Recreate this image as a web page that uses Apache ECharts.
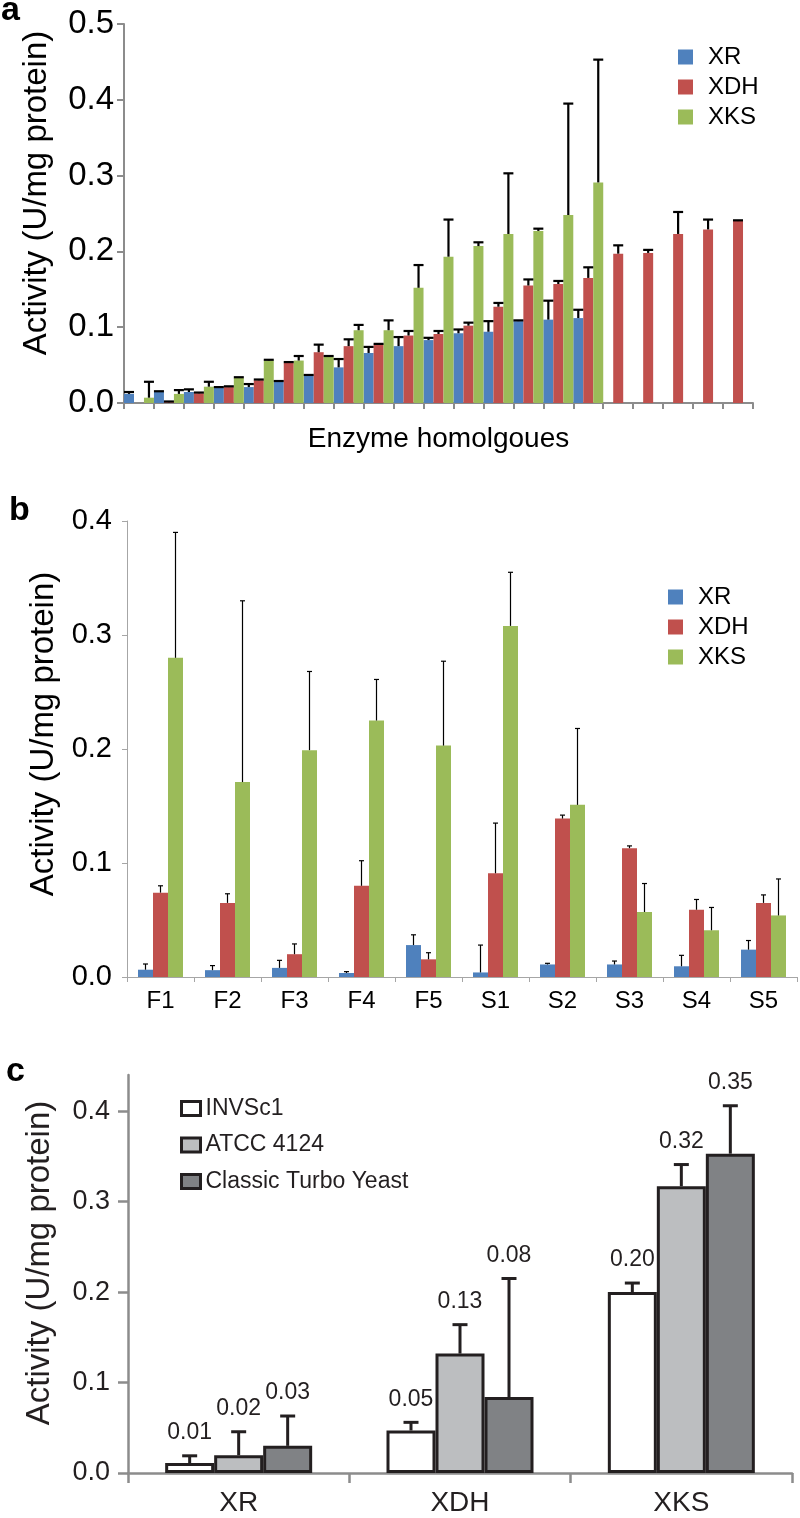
<!DOCTYPE html>
<html><head><meta charset="utf-8">
<script src="https://cdn.jsdelivr.net/npm/echarts@6/dist/echarts.min.js"></script>
<style>html,body{margin:0;padding:0;background:#fff}#chart{width:800px;height:1518px}</style>
</head><body><div id="chart"></div>
<script>
const FONT = "'Liberation Sans', Arial, Helvetica, sans-serif";

// ---------- Panel a ----------
const homologues = ['H1','H2','H3','H4','H5','H6','H7','H8','H9','H10','H11','H12','H13','H14','H15','H16','H17','H18','H19','H20','H21'];
const aXR      = [0.012, 0.0145, 0.0145, 0.020, 0.021, 0.028, 0.036, 0.047, 0.066, 0.075, 0.083, 0.092, 0.094, 0.108, 0.110, 0.112, null, null, null, null, null];
const aXRErr   = [0.0025, 0.001, 0.0035, 0.001, 0.004, 0.001, 0.001, 0.011, 0.008, 0.012, 0.003, 0.005, 0.014, 0.001, 0.025, 0.011, null, null, null, null, null];
const aXDH     = [null, 0.001, 0.0128, 0.021, 0.030, 0.053, 0.067, 0.075, 0.077, 0.089, 0.091, 0.102, 0.127, 0.155, 0.157, 0.165, 0.197, 0.198, 0.223, 0.229, 0.240];
const aXDHErr  = [null, 0.001, 0.001, 0.001, 0.001, 0.001, 0.010, 0.009, 0.001, 0.006, 0.004, 0.004, 0.005, 0.008, 0.004, 0.014, 0.011, 0.004, 0.029, 0.013, 0.001];
const aXKS     = [0.007, 0.012, 0.0215, 0.033, 0.056, 0.056, 0.061, 0.096, 0.096, 0.152, 0.193, 0.207, 0.223, 0.227, 0.248, 0.291, null, null, null, null, null];
const aXKSErr  = [0.021, 0.005, 0.0065, 0.001, 0.001, 0.006, 0.001, 0.007, 0.013, 0.030, 0.049, 0.005, 0.080, 0.003, 0.147, 0.162, null, null, null, null, null];
const aYTicks  = [0, 0.1, 0.2, 0.3, 0.4, 0.5];

// ---------- Panel b ----------
const strainsB = ['F1','F2','F3','F4','F5','S1','S2','S3','S4','S5'];
const bXR      = [0.0064, 0.006, 0.008, 0.0035, 0.028, 0.004, 0.011, 0.011, 0.0094, 0.024];
const bXRErr   = [0.005, 0.004, 0.0066, 0.0012, 0.009, 0.024, 0.001, 0.003, 0.0096, 0.008];
const bXDH     = [0.074, 0.065, 0.020, 0.080, 0.0155, 0.091, 0.139, 0.113, 0.059, 0.065];
const bXDHErr  = [0.006, 0.008, 0.009, 0.022, 0.0058, 0.044, 0.003, 0.002, 0.009, 0.007];
const bXKS     = [0.280, 0.171, 0.199, 0.225, 0.203, 0.308, 0.151, 0.057, 0.041, 0.054];
const bXKSErr  = [0.110, 0.159, 0.069, 0.036, 0.074, 0.047, 0.067, 0.025, 0.020, 0.032];
const bYTicks  = [0, 0.1, 0.2, 0.3, 0.4];

// ---------- Panel c ----------
const enzymesC   = ['XR','XDH','XKS'];
const strainsC   = ['INVSc1','ATCC 4124','Classic Turbo Yeast'];
const cINVSc1    = [0.011, 0.047, 0.200];
const cINVSc1Err = [0.008, 0.009, 0.010];
const cATCC      = [0.0196, 0.132, 0.317];
const cATCCErr   = [0.026, 0.032, 0.024];
const cTurbo     = [0.030, 0.084, 0.353];
const cTurboErr  = [0.033, 0.131, 0.053];
const cYTicks    = [0, 0.1, 0.2, 0.3, 0.4];

const seriesColors = {XR:'#4f81bd', XDH:'#c0504d', XKS:'#9bbb59'};
const cFill = ['#ffffff', '#bcbec0', '#808285'];
const INK = '#231f20';

function errData(vals, errs) {
  const out = [];
  vals.forEach((v, i) => { if (v != null && errs[i] != null) out.push([i, v, errs[i]]); });
  return out;
}
function errRenderer(offsetFn, capW, lw, color, label) {
  return function (params, api) {
    const i = api.value(0), v = api.value(1), e = api.value(2);
    const p0 = api.coord([i, v]);
    const p1 = api.coord([i, v + e]);
    const band = api.size([1, 0])[0];
    const cx = p0[0] + offsetFn(band);
    const st = {stroke: color, lineWidth: lw};
    const ch = [
      {type:'line', shape:{x1:cx, y1:p0[1], x2:cx, y2:p1[1]}, style:st},
      {type:'line', shape:{x1:cx - capW/2, y1:p1[1], x2:cx + capW/2, y2:p1[1]}, style:st}
    ];
    if (label) {
      ch.push({type:'text', x:cx, y:p1[1] - label.gap,
        style:{text: v.toFixed(2), fill: INK, font: label.font, align:'center', verticalAlign:'middle'}});
    }
    return {type:'group', children: ch};
  };
}

const chart = echarts.init(document.getElementById('chart'), null, {renderer:'canvas'});

const series = [];
// panel a bars
[['XR', aXR, aXRErr], ['XDH', aXDH, aXDHErr], ['XKS', aXKS, aXKSErr]].forEach(([n, v, e], k) => {
  series.push({type:'bar', name:n, xAxisIndex:0, yAxisIndex:0, data:v, barGap:'0%', barCategoryGap:'0%',
    itemStyle:{color:seriesColors[n]}, animation:false});
  series.push({type:'custom', name:n + ' error a', xAxisIndex:0, yAxisIndex:0, z:5, data:errData(v, e),
    encode:{x:0, y:1}, renderItem: errRenderer(b => (k - 1) * b / 3, 10, 2.2, '#000'), animation:false});
});
// panel b bars
[['XR', bXR, bXRErr], ['XDH', bXDH, bXDHErr], ['XKS', bXKS, bXKSErr]].forEach(([n, v, e], k) => {
  series.push({type:'bar', name:n, xAxisIndex:1, yAxisIndex:1, data:v, barWidth:15, barGap:'0%',
    itemStyle:{color:seriesColors[n]}, animation:false});
  series.push({type:'custom', name:n + ' error b', xAxisIndex:1, yAxisIndex:1, z:5, data:errData(v, e),
    encode:{x:0, y:1}, renderItem: errRenderer(() => (k - 1) * 15, 5, 1.2, '#000'), animation:false});
});
// panel c bars
[[strainsC[0], cINVSc1, cINVSc1Err], [strainsC[1], cATCC, cATCCErr], [strainsC[2], cTurbo, cTurboErr]].forEach(([n, v, e], k) => {
  series.push({type:'bar', name:n, xAxisIndex:2, yAxisIndex:2, data:v, barWidth:49, barGap:'0%',
    itemStyle:{color:cFill[k], borderColor:INK, borderWidth:3}, animation:false});
  series.push({type:'custom', name:n + ' error', xAxisIndex:2, yAxisIndex:2, z:5, data:errData(v, e),
    encode:{x:0, y:1}, renderItem: errRenderer(() => (k - 1) * 49, 15, 3, INK, {gap:23, font:'23px ' + FONT}), animation:false});
});

const yTitle = 'Activity (U/mg protein)';

const option = {
  backgroundColor:'#fff',
  animation:false,
  textStyle:{fontFamily:FONT},
  grid:[
    {left:124, right:47, top:24, height:379},
    {left:127, right:3, top:521, height:456},
    {left:128, right:8, top:1075, height:398}
  ],
  xAxis:[
    {type:'category', gridIndex:0, data:homologues,
      axisLine:{lineStyle:{color:'#8c8c8c', width:2}},
      axisTick:{show:true, length:6, lineStyle:{color:'#8c8c8c', width:2}},
      axisLabel:{show:false},
      name:'Enzyme homolgoues', nameLocation:'middle', nameGap:22,
      nameTextStyle:{fontSize:28, color:'#000', fontFamily:FONT}},
    {type:'category', gridIndex:1, data:strainsB,
      axisLine:{lineStyle:{color:'#a6a6a6', width:1}},
      axisTick:{show:true, length:5, lineStyle:{color:'#a6a6a6', width:1}},
      axisLabel:{interval:0, margin:12, fontSize:24, color:'#000', fontFamily:FONT}},
    {type:'category', gridIndex:2, data:enzymesC,
      axisLine:{lineStyle:{color:'#8c8c8c', width:2.5}},
      axisTick:{show:true, length:10, lineStyle:{color:'#8c8c8c', width:2.5}},
      axisLabel:{interval:0, margin:16, fontSize:28, color:INK, fontFamily:FONT}}
  ],
  yAxis:[
    {type:'value', gridIndex:0, min:0, max:0.5, interval:0.1, splitLine:{show:false},
      axisLine:{show:true, lineStyle:{color:'#8c8c8c', width:2}},
      axisTick:{show:true, length:7, lineStyle:{color:'#8c8c8c', width:2}},
      axisLabel:{margin:10, fontSize:33, color:'#000', fontFamily:FONT,
        customValues:aYTicks, formatter:v => v.toFixed(1)},
      name:yTitle, nameLocation:'middle', nameGap:71,
      nameTextStyle:{fontSize:33, color:'#000', fontFamily:FONT, padding:[0,0,0,41]}},
    {type:'value', gridIndex:1, min:0, max:0.4, interval:0.1, splitLine:{show:false},
      axisLine:{show:true, lineStyle:{color:'#a6a6a6', width:1}},
      axisTick:{show:true, length:5, lineStyle:{color:'#a6a6a6', width:1}},
      axisLabel:{margin:15, fontSize:29, color:'#000', fontFamily:FONT,
        customValues:bYTicks, formatter:v => v.toFixed(1)},
      name:yTitle, nameLocation:'middle', nameGap:66,
      nameTextStyle:{fontSize:33, color:'#000', fontFamily:FONT, padding:[0,0,0,30]}},
    {type:'value', gridIndex:2, min:0, max:0.44, splitLine:{show:false},
      axisLine:{show:true, lineStyle:{color:'#8c8c8c', width:2.5}},
      axisTick:{show:true, length:10, customValues:cYTicks, lineStyle:{color:'#8c8c8c', width:2.5}},
      axisLabel:{margin:18, fontSize:27, color:INK, fontFamily:FONT,
        customValues:cYTicks, formatter:v => v.toFixed(1)},
      name:yTitle, nameLocation:'middle', nameGap:72,
      nameTextStyle:{fontSize:33, color:INK, fontFamily:FONT, padding:[0,0,0,22]}}
  ],
  legend:[
    {data:['XR','XDH','XKS'], orient:'vertical', left:673, top:40, itemWidth:15, itemHeight:15, itemGap:6,
      icon:'rect', itemStyle:{borderWidth:0},
      textStyle:{fontSize:24, color:'#000', fontFamily:FONT, lineHeight:24, padding:[0,0,0,10]}, selectedMode:false},
    {data:['XR','XDH','XKS'], orient:'vertical', left:663, top:580, itemWidth:15, itemHeight:15, itemGap:6,
      icon:'rect', itemStyle:{borderWidth:0},
      textStyle:{fontSize:24, color:'#000', fontFamily:FONT, lineHeight:24, padding:[0,0,0,10]}, selectedMode:false},
    {data:strainsC, orient:'vertical', left:175, top:1092, itemWidth:19, itemHeight:14, itemGap:13.5,
      icon:'rect', itemStyle:{borderWidth:3, borderColor:INK},
      textStyle:{fontSize:23, color:INK, fontFamily:FONT, lineHeight:23}, selectedMode:false}
  ],
  graphic:[
    {type:'text', x:1, y:11, style:{text:'a', font:'bold 34px ' + FONT, fill:'#000', align:'left', verticalAlign:'middle'}},
    {type:'text', x:9, y:511, style:{text:'b', font:'bold 34px ' + FONT, fill:'#000', align:'left', verticalAlign:'middle'}},
    {type:'text', x:6, y:1072, style:{text:'c', font:'bold 34px ' + FONT, fill:'#000', align:'left', verticalAlign:'middle'}}
  ],
  series: series
};
chart.setOption(option);
</script>
</body></html>
